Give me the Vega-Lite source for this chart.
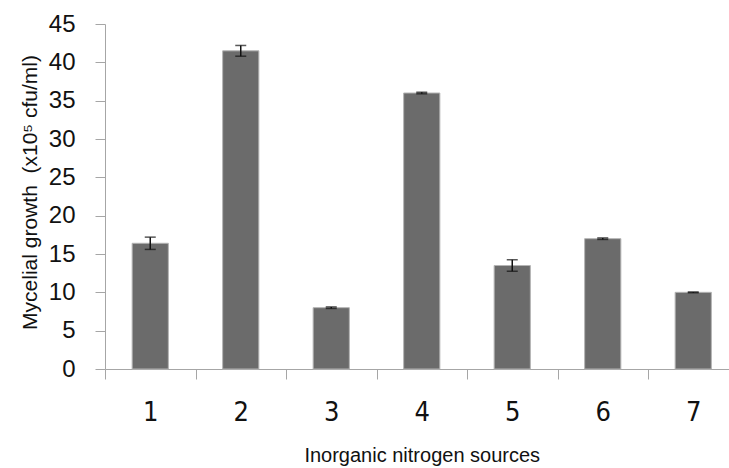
{
  "$schema": "https://vega.github.io/schema/vega-lite/v6.json",
  "width": 624,
  "height": 345,
  "autosize": {"type": "none"},
  "padding": {"left": 105, "top": 24, "right": 0, "bottom": 99},
  "background": "white",
  "config": {
    "view": {"stroke": null},
    "axis": {
      "domainColor": "#a6a6a6",
      "tickColor": "#a6a6a6",
      "domainWidth": 1,
      "tickWidth": 1,
      "tickSize": 10,
      "grid": false,
      "labelColor": "#111111",
      "titleColor": "#111111",
      "titleFontWeight": "normal"
    },
    "axisY": {
      "labelFont": "Liberation Sans, Arial, sans-serif",
      "labelFontSize": 24,
      "labelPadding": 20,
      "titleFont": "Liberation Sans, Arial, sans-serif",
      "titleFontSize": 21,
      "titlePadding": 8,
      "titleY": 168
    }
  },
  "data": {
    "values": [
      {"source": "1", "growth": 16.4, "err": 0.8},
      {"source": "2", "growth": 41.5, "err": 0.7},
      {"source": "3", "growth": 8.0, "err": 0.1},
      {"source": "4", "growth": 36.0, "err": 0.1},
      {"source": "5", "growth": 13.5, "err": 0.75},
      {"source": "6", "growth": 17.0, "err": 0.1},
      {"source": "7", "growth": 10.0, "err": 0.05}
    ]
  },
  "transform": [
    {"calculate": "datum.growth - datum.err", "as": "lo"},
    {"calculate": "datum.growth + datum.err", "as": "hi"}
  ],
  "encoding": {
    "x": {
      "field": "source",
      "type": "nominal",
      "sort": null,
      "scale": {"range": [0, 633.5], "paddingInner": 0, "paddingOuter": 0},
      "axis": {
        "title": "Inorganic nitrogen sources",
        "labelAngle": 0,
        "tickBand": "extent",
        "labelFont": "Liberation Sans Narrow, DejaVu Sans Condensed, sans-serif",
        "labelFontSize": 27,
        "labelPadding": 20,
        "titleFont": "Liberation Sans, Arial, sans-serif",
        "titleFontSize": 20,
        "titlePadding": 20
      }
    }
  },
  "layer": [
    {
      "mark": {"type": "bar", "width": {"band": 0.4}, "fill": "#6b6b6b", "stroke": "#b4b4b4", "strokeWidth": 1},
      "encoding": {
        "y": {
          "field": "growth",
          "type": "quantitative",
          "title": "Mycelial growth \u00a0(x10⁵ cfu/ml)",
          "scale": {"domain": [0, 45], "nice": false},
          "axis": {"values": [0, 5, 10, 15, 20, 25, 30, 35, 40, 45]}
        }
      }
    },
    {
      "mark": {"type": "rule", "color": "#111111", "strokeWidth": 1.5},
      "encoding": {
        "y": {"field": "lo", "type": "quantitative", "title": "Mycelial growth \u00a0(x10⁵ cfu/ml)", "axis": {"values": [0, 5, 10, 15, 20, 25, 30, 35, 40, 45]}},
        "y2": {"field": "hi"}
      }
    },
    {
      "mark": {"type": "tick", "color": "#111111", "size": 11, "thickness": 1.5, "orient": "horizontal"},
      "encoding": {
        "y": {"field": "lo", "type": "quantitative", "title": "Mycelial growth \u00a0(x10⁵ cfu/ml)", "axis": {"values": [0, 5, 10, 15, 20, 25, 30, 35, 40, 45]}}
      }
    },
    {
      "mark": {"type": "tick", "color": "#111111", "size": 11, "thickness": 1.5, "orient": "horizontal"},
      "encoding": {
        "y": {"field": "hi", "type": "quantitative", "title": "Mycelial growth \u00a0(x10⁵ cfu/ml)", "axis": {"values": [0, 5, 10, 15, 20, 25, 30, 35, 40, 45]}}
      }
    }
  ]
}
